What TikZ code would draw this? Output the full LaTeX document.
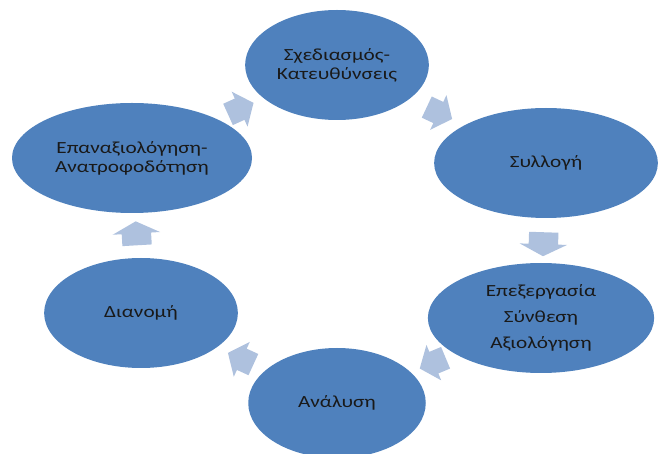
\documentclass[tikz,border=0pt]{standalone}
\usepackage{fontspec}
\setmainfont{Carlito}
\usetikzlibrary{shapes.geometric,shapes.arrows}
\definecolor{ellblue}{HTML}{4F81BD}
\definecolor{arrblue}{HTML}{AEC1DE}
\begin{document}
\begin{tikzpicture}[x=1pt,y=-1pt,
  stage/.style={ellipse, fill=ellblue, draw=none, xscale=1.25, minimum height=110pt,
    inner sep=0pt, align=center, font=\fontsize{17}{19}\selectfont, text=black!90},
  cyclearrow/.style={single arrow, fill=arrblue, draw=none, inner xsep=0pt,
    single arrow head indent=0pt, sloped, allow upside down},
  varrow/.style={cyclearrow, inner ysep=14.5pt, single arrow head extend=9pt,
    single arrow tip angle=126, minimum height=24pt},
  darrow/.style={cyclearrow, inner ysep=11.5pt, single arrow head extend=7.5pt,
    single arrow tip angle=103, minimum height=28pt}]
\useasboundingbox (0,0) rectangle (659,454);
\node[stage, minimum width=147pt] (plan) at (337,65) {Σχεδιασμός-\\Κατευθύνσεις};
\node[stage, minimum width=179pt] (coll) at (546,163) {Συλλογή};
\node[stage, minimum width=181pt] (proc) at (541,318) {Επεξεργασία\\[7pt]Σύνθεση\\[7pt]Αξιολόγηση};
\node[stage, minimum width=142pt] (anal) at (337,403) {Ανάλυση};
\node[stage, minimum width=155pt] (dist) at (141,313) {Διανομή};
\node[stage, minimum width=192pt] (eval) at (132,158) {Επαναξιολόγηση-\\Ανατροφοδότηση};
\path (plan.center) -- node[darrow, pos=0.47] (a1) {} (coll.center);
\path (coll.center) -- node[varrow, pos=0.5] (a2) {} (proc.center);
\path (proc.center) -- node[darrow, pos=0.51] (a3) {} (anal.center);
\path (anal.center) -- node[darrow, pos=0.47] (a4) {} (dist.center);
\path (dist.center) -- node[varrow, pos=0.49] (a5) {} (eval.center);
\path (eval.center) -- node[darrow, pos=0.51] (a6) {} (plan.center);
\end{tikzpicture}
\end{document}
